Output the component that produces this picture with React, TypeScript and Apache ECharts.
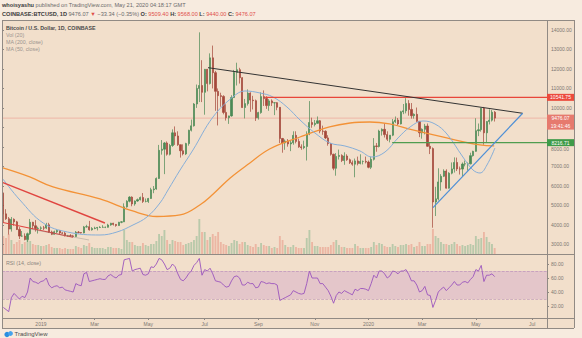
import React, { useEffect, useRef } from 'react';
import * as echarts from 'echarts';

const W = 582;
const H = 338;
const PLOT_L = 2;
const PLOT_R = 547;
const FRAME_R = 574;
const TOP = 20;
const SEP1 = 254;
const SEP2 = 318;
const BOTTOM = 328;
const N_CATS = 203; // 3-day periods from 18 Nov 2018 to mid July 2020
const DAYS_SPAN = N_CATS * 3;
const FONT = 'Liberation Sans, Arial, sans-serif';

// 3-day candles starting 18 Nov 2018 (BTCUSD, Coinbase)
const firstOpen = 5620;
const closes = [
  4560, 4310, 3780, 4280, 4150, 3760, 3420, 3420, 3240, 3540,
  4130, 3950, 3810, 3820, 3840, 3830, 4000, 3630, 3510, 3640,
  3710, 3580, 3570, 3440, 3440, 3430, 3400, 3620, 3600, 3580,
  3890, 3900, 3740, 3810, 3830, 3860, 3870, 3870, 3870, 3990,
  4080, 4020, 3960, 4130, 4150, 4920, 5210, 5420, 5070, 5220,
  5290, 5400, 5200, 5200, 5350, 5800, 5840, 6380, 7820, 7880,
  8200, 7620, 8070, 8720, 8560, 8110, 7800, 7640, 8170, 8850,
  9080, 10200, 11000, 11150, 10800, 11980, 11250, 12570, 11810, 10850,
  10630, 10590, 9770, 9500, 9590, 10530, 11820, 11960, 11550, 10020,
  10220, 10760, 10400, 10370, 9490, 9760, 10580, 10480, 10120, 10360,
  10260, 10270, 10030, 8430, 8200, 8300, 8150, 8210, 8590, 8280,
  8000, 7960, 8020, 8660, 9250, 9150, 9210, 9340, 8810, 8800,
  8460, 8170, 7620, 6900, 7510, 7560, 7300, 7530, 7340, 7190,
  7110, 7280, 7150, 7250, 7250, 7220, 6950, 7360, 8050, 8020,
  8810, 8900, 8630, 8390, 8600, 9290, 9380, 9180, 9800, 9850,
  10230, 9920, 9600, 9670, 9310, 8720, 8900, 9070, 8030, 7910,
  5170, 5330, 6200, 6490, 6760, 5880, 6650, 6870, 7200, 6870,
  6860, 7120, 7130, 7130, 7550, 7770, 8830, 8880, 9980, 8720,
  9300, 9370, 9780, 9476.07,
];
const highs = [
  5650, 4800, 4400, 4400, 4330, 4200, 3880, 3680, 3560, 3600,
  4300, 4150, 4240, 3900, 3920, 3940, 4100, 4100, 3700, 3700,
  3760, 3720, 3620, 3660, 3480, 3520, 3480, 3680, 3680, 3620,
  3940, 4000, 4200, 3880, 3900, 3890, 3930, 3980, 3910, 4050,
  4100, 4100, 4040, 4150, 4180, 5100, 5260, 5470, 5460, 5250,
  5350, 5450, 5630, 5350, 5380, 5900, 5990, 6430, 8100, 8350,
  8250, 8280, 8150, 8900, 9050, 8800, 8120, 8130, 8210, 8880,
  9400, 10250, 11200, 13880, 12450, 12000, 12000, 12800, 13200, 11900,
  11000, 10780, 10650, 10190, 9600, 10650, 11950, 12320, 12060, 11580,
  10460, 10950, 10800, 10620, 10430, 9800, 10800, 10900, 10600, 10450,
  10440, 10280, 10300, 10040, 8460, 8380, 8400, 8330, 8800, 8800,
  8420, 8130, 8320, 8800, 10350, 9500, 9380, 9560, 9380, 9090,
  8850, 8600, 8200, 7650, 7680, 7860, 7620, 7720, 7620, 7400,
  7300, 7400, 7500, 7620, 7300, 7500, 7300, 7500, 8450, 8200,
  8880, 8950, 9200, 8800, 8600, 9430, 9560, 9480, 9850, 10200,
  10500, 10400, 10250, 9720, 10020, 9320, 8950, 9180, 9200, 8200,
  7970, 5950, 6900, 6600, 6850, 6850, 6700, 7200, 7460, 7450,
  6990, 7200, 7300, 7200, 7700, 7800, 9470, 9200, 10000, 10050,
  9320, 9930, 9890, 9840,
];
const lows = [
  4100, 4250, 3500, 3650, 3950, 3730, 3270, 3380, 3200, 3120,
  3480, 3780, 3650, 3550, 3700, 3730, 3780, 3580, 3470, 3490,
  3580, 3480, 3530, 3400, 3390, 3390, 3360, 3380, 3560, 3550,
  3560, 3860, 3700, 3700, 3770, 3710, 3840, 3850, 3830, 3860,
  3950, 3960, 3900, 3950, 4080, 4140, 4880, 5150, 4950, 4980,
  5180, 5250, 5120, 5150, 5120, 5330, 5620, 5800, 6350, 7600,
  6600, 7550, 7560, 8000, 8100, 8050, 7450, 7560, 7580, 8060,
  8790, 9040, 10000, 10300, 10300, 9650, 10850, 11200, 11000, 9850,
  9100, 10060, 9670, 9350, 9180, 9550, 10510, 11150, 11250, 10000,
  9460, 10120, 9800, 9920, 9330, 9400, 9700, 10100, 9950, 9850,
  10100, 9630, 9880, 8200, 7700, 7850, 8010, 7780, 8110, 8180,
  7950, 7850, 7880, 7300, 8600, 8980, 9050, 9180, 8700, 8620,
  8400, 8060, 7550, 6800, 6520, 7350, 7220, 7080, 7280, 7120,
  7030, 6440, 7050, 7100, 7100, 7150, 6900, 6860, 7300, 7750,
  7970, 8580, 8480, 8300, 8230, 8550, 9220, 9100, 9150, 9680,
  9720, 9600, 9450, 9450, 9270, 8500, 8420, 8640, 8000, 7630,
  3850, 4450, 5250, 5750, 6450, 5860, 5860, 6590, 6680, 6760,
  6580, 6470, 7000, 6780, 7100, 7500, 7750, 8550, 8780, 8110,
  8220, 9150, 9300, 9300,
];
const volumes = [
  18, 16, 20, 14, 10, 12, 14, 10, 12, 14, 13, 10, 9, 9, 8,
  8, 9, 10, 7, 6, 6, 6, 5, 6, 5, 5, 5, 8, 7, 6, 9, 8, 11, 7, 6, 6, 6, 6, 5, 7, 7, 6, 6, 6, 5,
  24, 14, 12, 12, 9, 8, 8, 11, 9, 8, 10, 10, 13, 20, 18, 24,
  14, 10, 14, 13, 12, 12, 9, 10, 11, 12, 14, 18,
  35,
  22, 22, 14, 17, 20, 18, 22, 12, 10, 9, 8, 11, 14, 13, 10, 12, 12, 9, 8, 7, 10, 7,
  11, 9, 8, 8, 6, 7, 6, 18, 14, 9, 7, 7, 9, 7, 6, 6, 6,
  16, 24,
  12, 8, 8, 7, 7, 7, 7, 9, 12, 14, 9, 7, 7, 6, 6, 6, 10, 8, 6, 6, 6, 6,
  7, 12, 9, 11, 10, 8, 7, 7, 10, 8, 7, 9, 9, 10, 9, 10, 7, 8, 12, 8, 8, 10, 10,
  25, 18, 16, 12, 10, 10, 9, 10, 12, 10, 8, 9, 8, 9, 10, 9, 18, 15, 16, 22, 17, 12, 10, 6,
];
const rsi = [
  18, 15, 12, 32, 38, 34, 30, 34, 32, 40,
  60, 55, 54, 52, 55, 56, 60, 50, 46, 48,
  49, 46, 47, 43, 42, 41, 40, 52, 50, 49,
  66, 68, 55, 56, 57, 58, 59, 58, 58, 63,
  65, 62, 60, 64, 65, 86, 87, 88, 70, 72,
  73, 74, 65, 64, 66, 76, 75, 80, 88, 86,
  80, 72, 74, 80, 76, 66, 58, 56, 60, 66,
  70, 78, 82, 88, 64, 72, 70, 74, 66, 56,
  55, 54, 50, 47, 48, 56, 62, 63, 60, 50,
  50, 54, 52, 52, 46, 47, 55, 54, 52, 53,
  52, 52, 50, 28, 30, 32, 34, 36, 42, 40,
  38, 37, 38, 52, 70, 60, 60, 60, 52, 52,
  47, 42, 34, 24, 35, 40, 38, 42, 40, 38,
  36, 44, 42, 45, 45, 44, 42, 52, 64, 60,
  70, 70, 66, 60, 63, 70, 69, 66, 70, 70,
  72, 65, 56, 56, 50, 40, 42, 48, 36, 35,
  18, 28, 40, 44, 47, 42, 46, 50, 55, 50,
  50, 54, 55, 53, 58, 62, 72, 70, 78, 55,
  64, 64, 66, 62,
];
// moving averages: [day since 18 Nov 2018, price]
const ma200 = [
  [1, 6916], [31, 6454], [57, 5941], [109.5, 5325], [146, 4708], [173, 4426],
  [199, 4503], [221, 5016], [236, 5581], [255, 6402], [277, 7172], [299, 7891],
  [333, 8507], [366, 9021], [389, 9226], [411, 9277], [433, 9175], [459, 8867],
  [497, 8456], [534, 8097], [550, 8046],
];
const ma50 = [
  [1, 6351], [20, 5273], [46, 4092], [73, 3630], [109.5, 3476], [128.5, 3630],
  [146.4, 3990], [162, 4400], [176.5, 5119], [185.5, 5786], [199, 6813], [213.4, 7840],
  [235.8, 9534], [258, 10561], [271.5, 10869], [288.3, 10766], [302.8, 10561], [318.4, 10047],
  [333, 9380], [349.7, 8713], [366.5, 8199], [383.2, 8045], [400, 7789], [413.4, 7480],
  [428, 7737], [442.5, 8456], [456, 9021], [470.4, 9329], [483.8, 9175], [497.2, 8661],
  [515, 7480], [526.3, 6813], [534.1, 6659], [541.9, 7070], [550.8, 7943],
];
// drawings [day, price]
const trendBlack = [[230.2, 12065], [581.8, 9724]];
const trendBlue = [[481.6, 4878], [581.8, 9724]];
const trendRedUpper = [[1.1, 6161], [115, 4092]];
const trendRedLower = [[1.1, 4118], [79.3, 3358]];
const trendGray = [[31.3, 3785], [97.2, 3220]];
const resistanceLevel = 10541.75;
const resistanceStartDay = 294;
const supportLevel = 8216.71;
const supportStartDay = 436;
const lastPrice = 9476.07;
const lastTime = '19:41:46';

const monthTicks = [
  { idx: 14, label: '2019' }, { idx: 34, label: 'Mar' }, { idx: 54, label: 'May' },
  { idx: 75, label: 'Jul' }, { idx: 95, label: 'Sep' }, { idx: 116, label: 'Nov' },
  { idx: 136, label: '2020' }, { idx: 156, label: 'Mar' }, { idx: 176, label: 'May' },
  { idx: 197, label: 'Jul' },
];
const priceTicks = [3000, 4000, 5000, 6000, 7000, 8000, 9000, 10000, 11000, 12000, 13000, 14000];
// 9000.00 sits under the last-price tag in the reference; 8000.00 peeks out just below the support tag
const priceLabels = [3000, 4000, 5000, 6000, 7000, 10000, 11000, 12000, 13000, 14000];
const peekLabel = 8000;
const rsiTicks = [20, 40, 60, 80];

const UP = '#4a8a55';
const DOWN = '#a4463a';

export default function App() {
  const ref = useRef<HTMLDivElement>(null);
  useEffect(() => {
    const chart = echarts.init(ref.current as HTMLDivElement, null, { renderer: 'svg' });
    const cats = Array.from({ length: N_CATS }, (_, i) => String(i));
    const tickMap = new Map(monthTicks.map((t) => [t.idx, t.label]));
    const opens = closes.map((c, i) => (i === 0 ? firstOpen : closes[i - 1]));
    const candles = closes.map((c, i) => [opens[i], c, lows[i], highs[i]]);
    const vols = volumes.map((v, i) => ({
      value: v,
      itemStyle: { color: closes[i] >= opens[i] ? 'rgba(80,160,110,0.35)' : 'rgba(225,105,90,0.35)' },
    }));
    const lineSeries = (data: number[][], color: string, width: number, z = 5, type = 'solid') => ({
      type: 'line', xAxisIndex: 1, yAxisIndex: 0, data, symbol: 'none', silent: true, z,
      lineStyle: { color, width, type },
    });
    const plotW = PLOT_R - PLOT_L;
    const option: any = {
      animation: false,
      textStyle: { fontFamily: FONT },
      grid: [
        { left: PLOT_L, top: TOP, width: plotW, height: SEP1 - TOP },
        { left: PLOT_L, top: SEP1 - 42, width: plotW, height: 42 },
        { left: PLOT_L, top: SEP1, width: plotW, height: SEP2 - SEP1 },
      ],
      xAxis: [
        { type: 'category', gridIndex: 0, data: cats, boundaryGap: true, show: false },
        { type: 'value', gridIndex: 0, min: 0, max: DAYS_SPAN, show: false },
        { type: 'category', gridIndex: 1, data: cats, boundaryGap: true, show: false },
        {
          type: 'category', gridIndex: 2, data: cats, boundaryGap: true,
          axisLine: { show: false },
          axisTick: { show: true, alignWithLabel: true, length: 2, interval: (i: number) => tickMap.has(i), lineStyle: { color: '#8d8782' } },
          axisLabel: { interval: (i: number) => tickMap.has(i), formatter: (_v: string, i: number) => tickMap.get(i) || '', fontSize: 5, color: '#7d7772', margin: 3 },
          splitLine: { show: false },
        },
      ],
      yAxis: [
        {
          type: 'value', gridIndex: 0, position: 'right', min: 2500, max: 14513, scale: true,
          splitLine: { show: false }, axisLine: { show: false },
          axisTick: { show: true, customValues: priceTicks, length: 2, lineStyle: { color: '#8d8782' } },
          axisLabel: { customValues: priceLabels, formatter: (v: number) => v.toFixed(2), fontSize: 5, color: '#7d7772', margin: 4 },
        },
        { type: 'value', gridIndex: 1, min: 0, max: 42, show: false },
        {
          type: 'value', gridIndex: 2, position: 'right', min: 2.9, max: 94.3,
          splitLine: { show: false }, axisLine: { show: false },
          axisTick: { show: true, customValues: rsiTicks, length: 2, lineStyle: { color: '#8d8782' } },
          axisLabel: { customValues: rsiTicks, formatter: (v: number) => v.toFixed(2), fontSize: 5, color: '#7d7772', margin: 4 },
        },
      ],
      series: [
        { type: 'bar', xAxisIndex: 2, yAxisIndex: 1, data: vols, barWidth: '70%', silent: true, z: 1 },
        lineSeries([[0, lastPrice], [DAYS_SPAN, lastPrice]], 'rgba(230,110,100,0.45)', 0.8, 2),
        {
          type: 'candlestick', xAxisIndex: 0, yAxisIndex: 0, data: candles, barWidth: '62%', z: 3, silent: true,
          itemStyle: { color: UP, color0: DOWN, borderColor: UP, borderColor0: DOWN, borderWidth: 0.7 },
        },
        { ...lineSeries(ma200, '#f39237', 1.3, 4), smooth: 0.4 },
        { ...lineSeries(ma50, '#86aed8', 1, 4), smooth: 0.4 },
        lineSeries([[resistanceStartDay, resistanceLevel], [DAYS_SPAN, resistanceLevel]], '#e8463a', 1.4),
        lineSeries([[supportStartDay, supportLevel], [DAYS_SPAN, supportLevel]], '#4f9d4f', 1.1),
        lineSeries(trendBlack, '#333333', 1),
        lineSeries(trendBlue, '#4e8fd6', 1.2),
        lineSeries(trendRedUpper, '#e04540', 1.4),
        lineSeries(trendRedLower, '#e04540', 1.2),
        lineSeries(trendGray, 'rgba(120,120,120,0.5)', 0.7),
        {
          type: 'line', xAxisIndex: 3, yAxisIndex: 2, data: rsi, symbol: 'none', silent: true, z: 4,
          lineStyle: { color: '#9b55bd', width: 0.9 },
          markArea: { silent: true, itemStyle: { color: 'rgba(150,60,200,0.15)' }, data: [[{ yAxis: 30 }, { yAxis: 70 }]] },
          markLine: {
            silent: true, symbol: 'none', label: { show: false },
            lineStyle: { type: 'dashed', color: 'rgba(160,110,175,0.6)', width: 0.7 },
            data: [{ yAxis: 70 }, { yAxis: 30 }],
          },
        },
      ],
    };
    chart.setOption(option);

    const py = (v: number) => chart.convertToPixel({ yAxisIndex: 0 }, v) as number;
    const frame = '#918a84';
    const txt = (x: number, y: number, text: string, size: number, fill: string, weight = 'normal', align = 'left') => ({
      type: 'text', x, y, z: 100,
      style: { text, fontSize: size, fill, fontWeight: weight, fontFamily: FONT, align, verticalAlign: 'middle' },
    });
    const tag = (v: number, fill: string, lines: string[]) => {
      const y = py(v);
      const h = lines.length === 1 ? 7 : 15;
      return [
        { type: 'rect', z: 100, shape: { x: PLOT_R, y: y - 3.5, width: FRAME_R - PLOT_R, height: h }, style: { fill } },
        ...lines.map((l, k) => txt((PLOT_R + FRAME_R) / 2, y + k * 7.5, l, 5, '#ffffff', 'normal', 'center')),
      ];
    };
    const hl = (y: number, x1: number, x2: number) => ({ type: 'line', z: 90, shape: { x1, y1: y, x2, y2: y }, style: { stroke: frame, lineWidth: 1 } });
    const vl = (x: number, y1: number, y2: number) => ({ type: 'line', z: 90, shape: { x1: x, y1, x2: x, y2 }, style: { stroke: frame, lineWidth: 1 } });
    const rich = {
      b: { fontSize: 5.6, fontWeight: 'bold', fill: '#3a3a3a', fontFamily: FONT },
      n: { fontSize: 5.6, fill: '#6a6a6a', fontFamily: FONT },
      r: { fontSize: 5.6, fill: '#e0504a', fontFamily: FONT },
    };
    const graphic: any[] = [
      { type: 'rect', z: -100, shape: { x: PLOT_L, y: TOP, width: FRAME_R - PLOT_L, height: BOTTOM - TOP }, style: { fill: '#f2dfcb' } },
      {
        type: 'text', x: 2, y: 5, z: 100,
        style: { text: '{b|whoisyashu} {n|published on TradingView.com, May 21, 2020 04:18:17 GMT}', rich, verticalAlign: 'middle', fontSize: 5.6 },
      },
      {
        type: 'text', x: 2, y: 14, z: 100,
        style: {
          text: '{b|COINBASE:BTCUSD, 1D} {n|9476.07} {r|▼} {n|−33.34 (−0.35%)} {b|O:} {r|9509.40} {b|H:} {r|9568.00} {b|L:} {r|9440.00} {b|C:} {r|9476.07}',
          rich, verticalAlign: 'middle', fontSize: 5.6,
        },
      },
      txt(6, 28, 'Bitcoin / U.S. Dollar, 1D, COINBASE', 5.3, '#4a4a4a', 'bold'),
      txt(6, 35, 'Vol (20)', 5.3, '#9a948f'),
      txt(6, 42, 'MA (200, close)', 5.3, '#9a948f'),
      txt(6, 49, 'MA (50, close)', 5.3, '#9a948f'),
      txt(6, 263, 'RSI (14, close)', 5.3, '#8a8580'),
      txt(PLOT_R + 4, py(peekLabel) + 2.5, peekLabel.toFixed(2), 5, '#7d7772'),
      hl(TOP + 0.5, PLOT_L, FRAME_R),
      hl(SEP1 + 0.5, PLOT_L, FRAME_R),
      hl(SEP2 + 0.5, PLOT_L, FRAME_R),
      hl(BOTTOM + 0.5, PLOT_L, FRAME_R),
      vl(PLOT_L + 0.5, TOP, BOTTOM),
      vl(PLOT_R + 0.5, TOP, BOTTOM),
      vl(FRAME_R + 0.5, TOP, BOTTOM),
      ...tag(resistanceLevel, '#ec4a3c', [resistanceLevel.toFixed(2)]),
      ...tag(lastPrice, '#e67a6e', [lastPrice.toFixed(2), lastTime]),
      ...tag(supportLevel, '#3f9b49', [supportLevel.toFixed(2)]),
      { type: 'circle', z: 100, shape: { cx: 7, cy: 334.5, r: 2.6 }, style: { fill: '#2a8fe0' } },
      { type: 'circle', z: 100, shape: { cx: 10.5, cy: 333.5, r: 2.4 }, style: { fill: '#46a3ec' } },
      txt(14.5, 333.5, 'TradingView', 6, '#4a4a4a'),
    ];
    chart.setOption({ graphic });
    return () => chart.dispose();
  }, []);
  return (
    <div
      ref={ref}
      style={{ position: 'absolute', left: 0, top: 0, width: W, height: H, background: '#f7ebdf' }}
    />
  );
}
